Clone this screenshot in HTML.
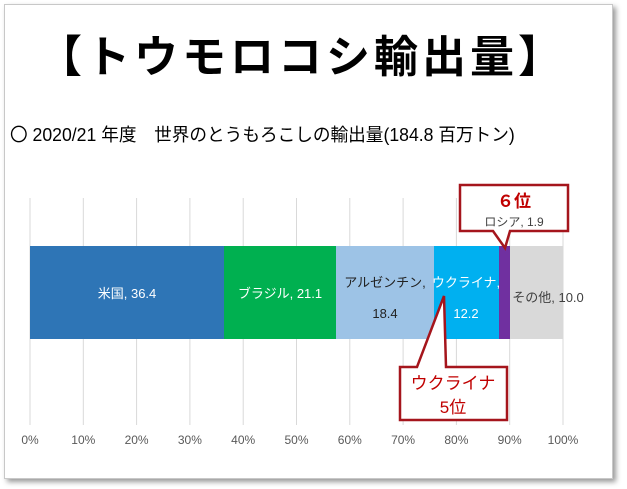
<!DOCTYPE html>
<html><head><meta charset="utf-8"><style>
body{margin:0;width:627px;height:489px;background:#fff;position:relative;overflow:hidden;font-family:"Liberation Sans","Noto Sans CJK JP",sans-serif}
.frame{position:absolute;left:4px;top:4px;width:607px;height:473px;border:1px solid #c8c8c8;box-shadow:3px 3px 5px #999;background:#fff}
.t{position:absolute;white-space:nowrap}
</style></head><body>
<div class="frame"></div>
<div class="t" style="left:38px;top:28px;font-size:44px;font-weight:bold;line-height:60px;letter-spacing:4px">【トウモロコシ輸出量】</div>
<div class="t" style="left:10px;top:122px;font-size:18px;line-height:26px;transform:scaleX(0.98);transform-origin:0 0">〇 2020/21 年度　世界のとうもろこしの輸出量(184.8 百万トン)</div>
<svg width="627" height="489" style="position:absolute;left:0;top:0" font-family="Liberation Sans, Noto Sans CJK JP, sans-serif">
<g stroke="#d9d9d9" stroke-width="1">
<line x1="30" y1="198" x2="30" y2="425"/><line x1="83.3" y1="198" x2="83.3" y2="425"/><line x1="136.6" y1="198" x2="136.6" y2="425"/><line x1="189.9" y1="198" x2="189.9" y2="425"/><line x1="243.2" y1="198" x2="243.2" y2="425"/><line x1="296.5" y1="198" x2="296.5" y2="425"/><line x1="349.8" y1="198" x2="349.8" y2="425"/><line x1="403.1" y1="198" x2="403.1" y2="425"/><line x1="456.4" y1="198" x2="456.4" y2="425"/><line x1="509.7" y1="198" x2="509.7" y2="425"/><line x1="563" y1="198" x2="563" y2="425"/>
</g>
<rect x="30" y="246" width="194" height="93" fill="#2e75b6"/>
<rect x="224" y="246" width="112" height="93" fill="#00b050"/>
<rect x="336" y="246" width="98" height="93" fill="#9dc3e6"/>
<rect x="434" y="246" width="65" height="93" fill="#00b0f0"/>
<rect x="499" y="246" width="11" height="93" fill="#7030a0"/>
<rect x="510" y="246" width="53" height="93" fill="#d9d9d9"/>
<g font-size="13" text-anchor="middle">
<text x="127" y="298" fill="#fff">米国, 36.4</text>
<text x="280" y="298" fill="#fff">ブラジル, 21.1</text>
<text x="385" y="287" fill="#222">アルゼンチン,</text>
<text x="385" y="318" fill="#222">18.4</text>
<text x="466" y="287" fill="#fff">ウクライナ,</text>
<text x="466" y="318" fill="#fff">12.2</text>
<text x="548" y="302" fill="#404040">その他, 10.0</text>
</g>
<g font-size="12" fill="#595959" text-anchor="middle">
<text x="30" y="444">0%</text><text x="83.3" y="444">10%</text><text x="136.6" y="444">20%</text><text x="189.9" y="444">30%</text><text x="243.2" y="444">40%</text><text x="296.5" y="444">50%</text><text x="349.8" y="444">60%</text><text x="403.1" y="444">70%</text><text x="456.4" y="444">80%</text><text x="509.7" y="444">90%</text><text x="563" y="444">100%</text>
</g>
<path d="M460,185 H568 V231 H510 L505,248 L493,231 H460 Z" fill="#fff" stroke="#a5151c" stroke-width="2.5"/>
<text x="514" y="207" font-size="17" font-weight="bold" fill="#c00000" text-anchor="middle">６位</text>
<text x="514" y="226" font-size="12" fill="#404040" text-anchor="middle">ロシア, 1.9</text>
<path d="M400,367 H417 L444,296 L446,367 H507 V420 H400 Z" fill="#fff" stroke="#a5151c" stroke-width="2.5"/>
<text x="453" y="389" font-size="17" fill="#c00000" text-anchor="middle">ウクライナ</text>
<text x="453" y="413" font-size="17" fill="#c00000" text-anchor="middle">5位</text>
</svg>
</body></html>
